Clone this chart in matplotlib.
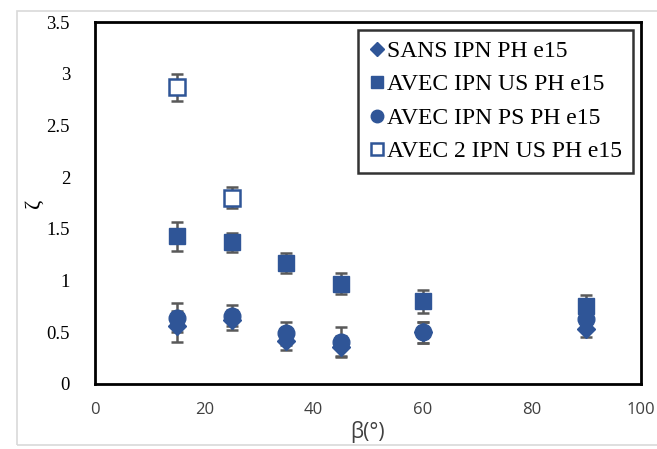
import matplotlib.pyplot as plt
from matplotlib.patches import Rectangle

# ==============================
# Data
# ==============================
beta = [15, 25, 35, 45, 60, 90]

sans_ipn = [0.56, 0.62, 0.42, 0.36, 0.50, 0.53]
sans_err = [0.15, 0.10, 0.09, 0.10, 0.10, 0.08]

avec_us = [1.43, 1.37, 1.17, 0.97, 0.80, 0.75]
avec_us_err = [0.14, 0.09, 0.10, 0.10, 0.11, 0.11]

avec_ps = [0.64, 0.66, 0.49, 0.41, 0.50, 0.63]
avec_ps_err = [0.14, 0.10, 0.11, 0.14, 0.10, 0.10]

beta2 = [15, 25]
avec2_us = [2.87, 1.80]
avec2_us_err = [0.13, 0.10]

labels = ["SANS IPN PH e15", "AVEC IPN US PH e15",
          "AVEC IPN PS PH e15", "AVEC 2 IPN US PH e15"]

blue = "#2F5597"
errc = "#595959"

# ==============================
# Figure
# ==============================
fig = plt.figure(figsize=(6.57, 4.49), dpi=100)
ax = fig.add_axes([95 / 657, 1 - 384 / 449, (641 - 95) / 657, (384 - 22) / 449])

# light grey outer frame (runs off the right edge)
fig.patches.append(Rectangle((17 / 657, 1 - 445 / 449), 1.0, (445 - 11) / 449,
                             transform=fig.transFigure, fill=False,
                             edgecolor="#d9d9d9", lw=1.2))

eb = dict(ecolor=errc, elinewidth=1.8, capsize=4, capthick=1.8, ls="none")

ax.errorbar(beta, sans_ipn, yerr=sans_err, marker="D", ms=9, color=blue,
            mec=blue, label=labels[0], **eb)
ax.errorbar(beta, avec_us, yerr=avec_us_err, marker="s", ms=12, color=blue,
            mec=blue, label=labels[1], **eb)
ax.errorbar(beta, avec_ps, yerr=avec_ps_err, marker="o", ms=12, color=blue,
            mec=blue, label=labels[2], **eb)
ax.errorbar(beta2, avec2_us, yerr=avec2_us_err, marker="s", ms=11, color=blue,
            mfc="white", mec=blue, mew=1.8, label=labels[3], **eb)

ax.set_xlim(0, 100)
ax.set_ylim(0, 3.5)
ax.set_xticks([0, 20, 40, 60, 80, 100])
ax.set_yticks([0, 0.5, 1, 1.5, 2, 2.5, 3, 3.5])
ax.set_yticklabels(["0", "0.5", "1", "1.5", "2", "2.5", "3", "3.5"],
                   family="Liberation Serif", fontsize=13.5)
ax.set_xticklabels(["0", "20", "40", "60", "80", "100"],
                   family="Open Sans", fontsize=12, color="#404040")
ax.tick_params(length=0)
ax.tick_params(axis="y", pad=18)
ax.tick_params(axis="x", pad=13)

for s in ax.spines.values():
    s.set_linewidth(2)
    s.set_color("black")

ax.set_xlabel("β(°)", family="Open Sans", fontsize=15, color="#404040", labelpad=2)
ax.set_ylabel("ζ", family="Liberation Serif", fontsize=16, labelpad=2)

# legend with markers only
handles, _ = ax.get_legend_handles_labels()
handles = [h[0] for h in handles]
leg = ax.legend(handles, labels, loc="upper right",
                bbox_to_anchor=((633 - 95) / 546, (384 - 30) / 362),
                borderaxespad=0,
                prop={"family": "Liberation Serif", "size": 17},
                frameon=True, fancybox=False, edgecolor="black",
                handlelength=0.7, handletextpad=0.1, labelspacing=0.5,
                borderpad=0.45, markerscale=0.75)
leg.get_frame().set_linewidth(1.8)

fig.savefig("out.png", dpi=100)
